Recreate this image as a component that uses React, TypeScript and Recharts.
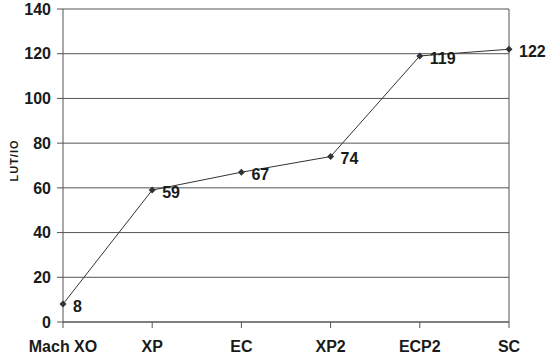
import { LineChart, Line, XAxis, YAxis, CartesianGrid, ReferenceLine, LabelList } from "recharts";

const categories = ["Mach XO", "XP", "EC", "XP2", "ECP2", "SC"];
const lutIo = [8, 59, 67, 74, 119, 122];
const yTicks = [0, 20, 40, 60, 80, 100, 120, 140];

const data = categories.map((name, i) => ({ name, value: lutIo[i] }));

const FONT = "Arial, 'Liberation Sans', sans-serif";
const INK = "#333";

const Diamond = (props: any) => {
  const { cx, cy } = props;
  if (cx == null || cy == null) return null;
  const r = 3.5;
  return (
    <polygon
      points={`${cx},${cy - r} ${cx + r},${cy} ${cx},${cy + r} ${cx - r},${cy}`}
      fill="#333"
    />
  );
};

export default function App() {
  return (
    <div style={{ position: "absolute", left: 0, top: 0, background: "#fff" }}>
      <LineChart
        width={550}
        height={357}
        data={data}
        margin={{ top: 9, right: 41, bottom: 0, left: 0 }}
      >
        <CartesianGrid vertical={false} stroke="#555" strokeWidth={1} />
        <ReferenceLine x="SC" stroke="#555" strokeWidth={1} />
        <XAxis
          dataKey="name"
          height={35}
          stroke="#555"
          tickSize={6}
          tickMargin={13}
          tick={{ fontSize: 16, fontWeight: "bold", fontFamily: FONT, fill: "#1a1a1a" }}
        />
        <YAxis
          width={63}
          domain={[0, 140]}
          ticks={yTicks}
          interval={0}
          stroke="#555"
          tickSize={6}
          tickMargin={6}
          tick={{ fontSize: 16, fontWeight: "bold", fontFamily: FONT, fill: "#1a1a1a" }}
          label={{
            value: "LUT/IO",
            angle: -90,
            position: "insideLeft",
            offset: 9,
            dy: -5,
            dx: 5,
            style: { fontSize: 11, fontWeight: "bold", letterSpacing: 1, fontFamily: FONT, fill: "#1a1a1a", textAnchor: "middle" },
          }}
        />
        <Line
          dataKey="value"
          stroke={INK}
          strokeWidth={1}
          isAnimationActive={false}
          dot={<Diamond />}
          activeDot={false}
        >
          <LabelList
            dataKey="value"
            position="right"
            offset={10}
            style={{ fontSize: 16, fontWeight: "bold", fontFamily: FONT, fill: "#1a1a1a" }}
            dy={2}
          />
        </Line>
      </LineChart>
    </div>
  );
}
